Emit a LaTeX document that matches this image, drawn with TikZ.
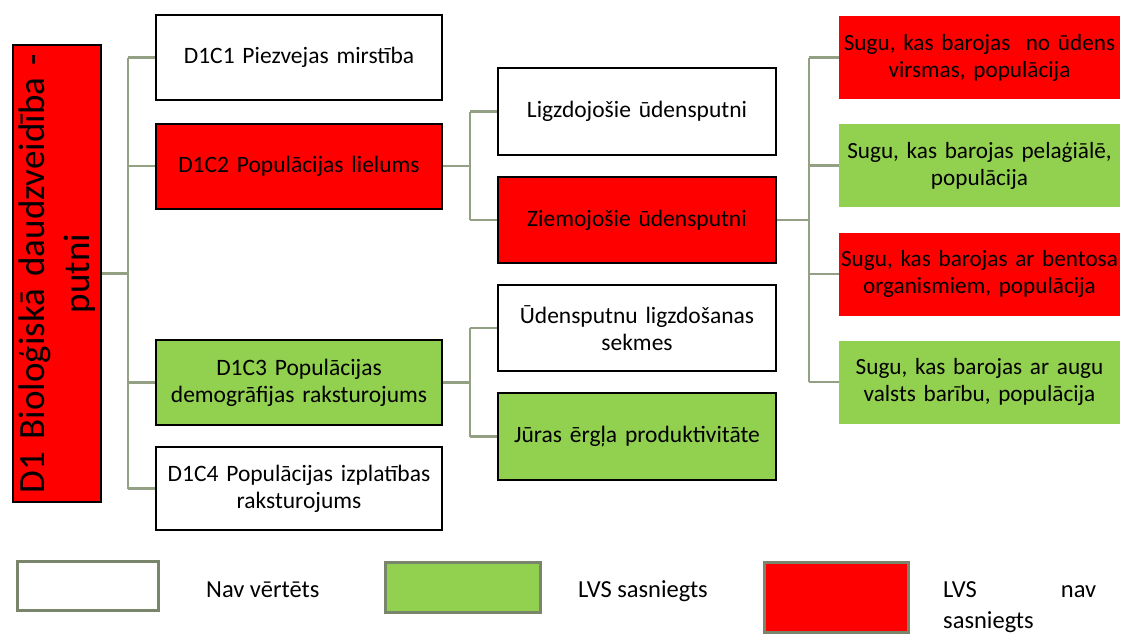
\documentclass[tikz,border=0pt]{standalone}
\usepackage{fontspec}
\setmainfont{Carlito}
\definecolor{conncol}{RGB}{148,160,132}
\definecolor{legcol}{RGB}{122,134,108}
\definecolor{okgreen}{RGB}{146,208,80}
\definecolor{badred}{RGB}{255,0,0}
\begin{document}
\begin{tikzpicture}[x=1pt,y=-1pt,
  box/.style={draw=black, line width=2pt, align=center, inner sep=0pt, font=\fontsize{23.5}{27}\selectfont},
  lvA/.style={box, minimum width=286, minimum height=85, text width=284},
  lvB/.style={box, minimum width=278, minimum height=86, text width=276},
  lvC/.style={draw=none, align=center, inner sep=0pt, minimum width=281, minimum height=83, text width=281, font=\fontsize{23.2}{27}\selectfont},
  conn/.style={draw=conncol, line width=2.6pt},
  legbox/.style={draw=legcol, line width=3pt, inner sep=0pt},
  legtext/.style={inner sep=0pt, font=\fontsize{24.5}{31}\selectfont}]
\useasboundingbox (0,0) rectangle (1121,635);

% root
\node[box, fill=badred, rotate=90, minimum width=457, minimum height=88, text width=455, font=\fontsize{37}{45}\selectfont] (root) at (57,273.5) {D1 Bioloģiskā daudzveidība -\\putni};

% level 1
\node[lvA] (c1) at (299,57.5) {D1C1 Piezvejas mirstība};
\node[lvA, fill=badred] (c2) at (299,166) {D1C2 Populācijas lielums};
\node[lvA, fill=okgreen] (c3) at (299,382.5) {D1C3 Populācijas\\demogrāfijas raksturojums};
\node[lvA, minimum height=83] (c4) at (299,488.5) {D1C4 Populācijas izplatības\\raksturojums};

% level 2
\node[lvB, minimum height=87] (b1) at (637,111.5) {Ligzdojošie ūdensputni};
\node[lvB, fill=badred] (b2) at (637,220) {Ziemojošie ūdensputni};
\node[lvB] (b3) at (637,328) {Ūdensputnu ligzdošanas\\sekmes};
\node[lvB, fill=okgreen, minimum height=87] (b4) at (637,436.5) {Jūras ērgļa produktivitāte};

% level 3
\node[lvC, fill=badred] (d1) at (979.5,57.5) {Sugu, kas barojas \ no ūdens\\virsmas, populācija};
\node[lvC, fill=okgreen] (d2) at (979.5,165.5) {Sugu, kas barojas pelaģiālē,\\populācija};
\node[lvC, fill=badred] (d3) at (979.5,274) {Sugu, kas barojas ar bentosa\\organismiem, populācija};
\node[lvC, fill=okgreen] (d4) at (979.5,382) {Sugu, kas barojas ar augu\\valsts barību, populācija};

% trunk coordinates
\coordinate (t1) at (128,273.5);
\coordinate (t2) at (470,166);
\coordinate (t3) at (470,382.5);
\coordinate (t4) at (809,220);

% connectors
\draw[conn] (root.south) -- (t1);
\draw[conn] (t1 |- c1.west) -- (t1 |- c4.west);
\foreach \n in {c1,c2,c3,c4} \draw[conn] (t1 |- \n.west) -- (\n.west);

\draw[conn] (c2.east) -- (t2);
\draw[conn] (t2 |- b1.west) -- (t2 |- b2.west);
\foreach \n in {b1,b2} \draw[conn] (t2 |- \n.west) -- (\n.west);

\draw[conn] (c3.east) -- (t3);
\draw[conn] (t3 |- b3.west) -- (t3 |- b4.west);
\foreach \n in {b3,b4} \draw[conn] (t3 |- \n.west) -- (\n.west);

\draw[conn] (b2.east) -- (t4);
\draw[conn] (t4 |- d1.west) -- (t4 |- d4.west);
\foreach \n in {d1,d2,d3,d4} \draw[conn] (t4 |- \n.west) -- (\n.west);

% legend
\node[legbox, fill=white, minimum width=141, minimum height=49] (l1) at (87.5,585.5) {};
\node[legtext, anchor=base west] (l1t) at (206,597) {Nav vērtēts};
\node[legbox, fill=okgreen, minimum width=155, minimum height=50] (l2) at (462.5,587) {};
\node[legtext, anchor=base west] (l2t) at (578,597) {LVS sasniegts};
\node[legbox, fill=badred, minimum width=144, minimum height=70] (l3) at (836,597) {};
\node[legtext, anchor=base west, align=left, text width=153] (l3t) at (943,597) {LVS\hfill nav\\sasniegts};
\end{tikzpicture}
\end{document}
